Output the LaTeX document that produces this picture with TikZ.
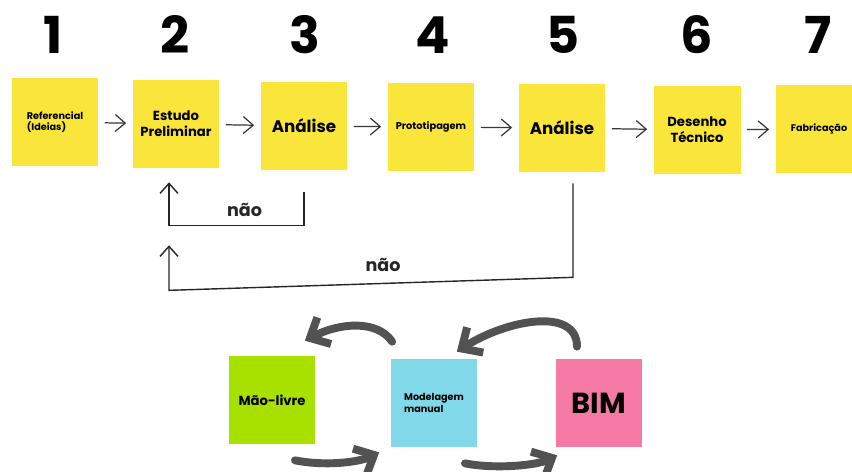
\documentclass[tikz,border=0pt]{standalone}
\usepackage{fontspec}
\setmainfont{Poppins}
\usetikzlibrary{arrows.meta,positioning,calc}
\definecolor{noteyellow}{RGB}{250,229,58}
\definecolor{notegreen}{RGB}{168,224,0}
\definecolor{notecyan}{RGB}{128,216,232}
\definecolor{notepink}{RGB}{246,122,166}
\definecolor{inkgray}{RGB}{55,55,55}

\tikzset{
  note/.style={minimum width=1.74cm, minimum height=1.76cm, inner sep=1pt, align=center, font=\bfseries},
  stepnum/.style={font=\fontsize{29}{29}\selectfont\bfseries},
  flow/.style={-{Straight Barb[length=2mm,width=3.4mm]}, inkgray, line width=0.7pt, shorten <=0.12cm, shorten >=0.12cm},
  backloop/.style={-{Straight Barb[length=2mm,width=3.6mm]}, black!85, line width=0.8pt},
  brush/.style={-{Straight Barb[length=3.2mm,width=6mm]}, black!68, line width=4.5pt, line cap=round}
}

\begin{document}
\begin{tikzpicture}[x=0.02cm, y=-0.02cm]

% pixel grid: x to the right, y downwards
\clip (0,0) rectangle (852,472);
\fill[white] (0,0) rectangle (852,472);

% etapas 1 a 7
\node[stepnum] (n1) at (53,35) {1};
\node[stepnum] (n2) at (175,35) {2};
\node[stepnum] (n3) at (305,35) {3};
\node[stepnum] (n4) at (433,35) {4};
\node[stepnum] (n5) at (563,35) {5};
\node[stepnum] (n6) at (697,35) {6};
\node[stepnum] (n7) at (818,35) {7};

\node[note, fill=noteyellow, font=\fontsize{5.5}{6.5}\selectfont\bfseries, align=left] (ref) at (55,122) {Referencial\\(Ideias)};
\node[note, fill=noteyellow, font=\fontsize{7.5}{9}\selectfont\bfseries] (est) at (176,124) {Estudo\\Preliminar};
\node[note, fill=noteyellow, font=\fontsize{9.5}{11}\selectfont\bfseries] (anaA) at (304,126) {Análise};
\node[note, fill=noteyellow, font=\fontsize{5.6}{6.5}\selectfont\bfseries] (proto) at (431,127) {Prototipagem};
\node[note, fill=noteyellow, font=\fontsize{9.5}{11}\selectfont\bfseries] (anaB) at (562,128) {Análise};
\node[note, fill=noteyellow, font=\fontsize{7.5}{9}\selectfont\bfseries] (des) at (697,130) {Desenho\\Técnico};
\node[note, fill=noteyellow, font=\fontsize{5.5}{6.5}\selectfont\bfseries] (fab) at (819,129) {Fabricação};

\draw[flow] (ref) -- (est);
\draw[flow] (est) -- (anaA);
\draw[flow] (anaA) -- (proto);
\draw[flow] (proto) -- (anaB);
\draw[flow] (anaB) -- (des);
\draw[flow] (des) -- (fab);

% retornos
\draw[backloop] ([yshift=-0.44cm]anaA.south) -- ++(0,33)
  -| node[pos=0.22, above=1pt, font=\fontsize{10}{12}\selectfont\bfseries] (nao1) {não}
  ([xshift=-0.14cm,yshift=-0.28cm]est.south);
\draw[backloop] ([xshift=0.22cm,yshift=-0.22cm]anaB.south) -- ++(0,94)
  -- node[pos=0.47, above=3pt, font=\fontsize{10}{12}\selectfont\bfseries] (nao2) {não} ++(-404,13)
  -- ([xshift=-0.14cm,yshift=-1.54cm]est.south);

% ferramentas
\node[note, fill=notegreen, font=\fontsize{7.5}{9}\selectfont\bfseries] (mao) at (272,400) {Mão-livre};
\node[note, fill=notecyan, font=\fontsize{5.5}{6.5}\selectfont\bfseries, align=left] (mod) at (434,403) {Modelagem\\manual};
\node[note, fill=notepink, font=\fontsize{16.5}{18}\selectfont\bfseries] (bim) at (599,403) {BIM};

\draw[brush] ([xshift=0.04cm,yshift=0.34cm]mod.north west)
  .. controls +(-15,-22) and +(35,-18) .. ([xshift=-0.22cm,yshift=0.3cm]mao.north east);
\draw[brush] ([xshift=-0.44cm,yshift=0.24cm]bim.north)
  .. controls +(0,-40) and +(50,-32) .. ([xshift=-0.42cm,yshift=0.14cm]mod.north east);
\draw[brush] ([xshift=0.46cm,yshift=-0.32cm]mao.south)
  .. controls +(30,6) and +(-20,10) .. ([xshift=-0.22cm,yshift=-0.1cm]mod.south west);
\draw[brush] ([xshift=0.62cm,yshift=-0.32cm]mod.south)
  .. controls +(30,6) and +(-20,10) .. ([xshift=0.04cm,yshift=-0.16cm]bim.south west);

\end{tikzpicture}
\end{document}
